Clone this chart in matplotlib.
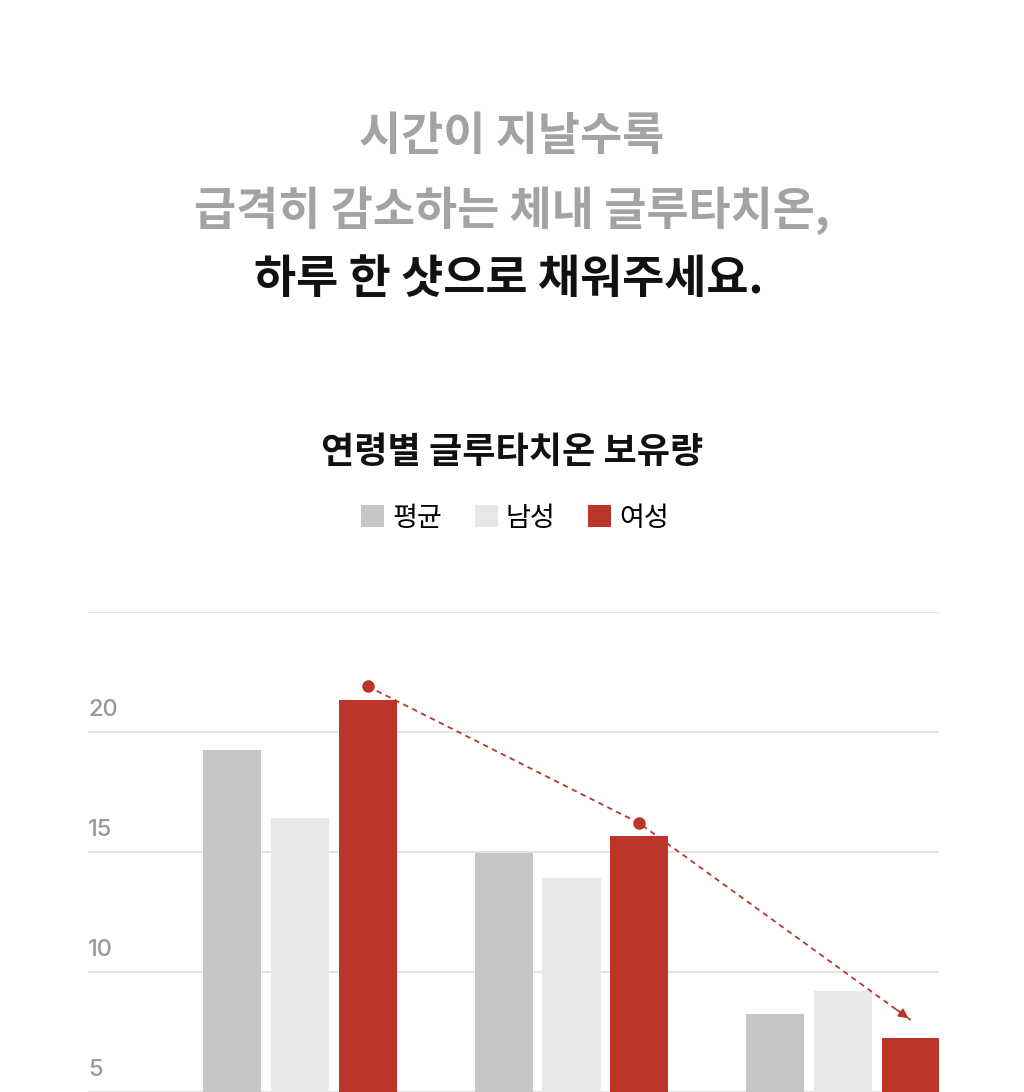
import numpy as np
import matplotlib.pyplot as plt
from matplotlib.patches import Patch

plt.rcParams['font.family'] = ['Noto Sans CJK KR', 'DejaVu Sans']

# data
series_names = ['평균', '남성', '여성']
avg_vals = [19.25, 14.95, 8.25]
male_vals = [16.4, 13.9, 9.2]
female_vals = [21.35, 15.65, 7.25]
trend_vals = [21.9, 16.2, 8.0]
ytick_vals = [5, 10, 15, 20]
grid_vals = [5, 10, 15, 20, 25]

colors = ['#c6c6c6', '#e8e8e8', '#bc342a']

fig = plt.figure(figsize=(10.24, 10.92), dpi=100)
fig.patch.set_facecolor('white')

# headline text
fig.text(0.5, 1 - 137 / 1092, '시간이 지날수록', ha='center', va='center',
         fontsize=33, fontweight='bold', color='#a3a3a3')
fig.text(0.5, 1 - 211 / 1092, '급격히 감소하는 체내 글루타치온,', ha='center', va='center',
         fontsize=33, fontweight='bold', color='#a3a3a3')
fig.text(0.497, 1 - 280 / 1092, '하루 한 샷으로 채워주세요.', ha='center', va='center',
         fontsize=33, fontweight='bold', color='#111111')
fig.text(0.5, 1 - 452 / 1092, '연령별 글루타치온 보유량', ha='center', va='center',
         fontsize=26, fontweight='bold', color='#111111')

ax = fig.add_axes([88 / 1024, 0, (939 - 88) / 1024, 480 / 1092])

x = np.arange(len(avg_vals))
w = 0.214
step = 0.25
ax.bar(x - step, avg_vals, w, color=colors[0], zorder=2)
ax.bar(x, male_vals, w, color=colors[1], zorder=2)
ax.bar(x + step, female_vals, w, color=colors[2], zorder=2)

# trend line over the red bars
tx = x + step
ax.plot(tx, trend_vals, color='#b8352c', lw=1.3, ls=(0, (3, 2.5)), zorder=3)
ax.plot(tx[:-1], trend_vals[:-1], 'o', color='#bc342a', ms=8, zorder=4)
ax.annotate('', xy=(tx[-1], trend_vals[-1]),
            xytext=(tx[-1] - 0.06, trend_vals[-1] + (trend_vals[-2] - trend_vals[-1]) * 0.06),
            arrowprops=dict(arrowstyle='-|>', color='#bc342a', lw=1.3, mutation_scale=14),
            zorder=4)

ax.set_xlim(-0.781, 2.354)
ax.set_ylim(5, 25)
for g in grid_vals:
    ax.axhline(g, color='#e0e0e0', lw=1.3, zorder=1)

for v in ytick_vals:
    ax.annotate(str(v), xy=(0, v), xycoords=ax.get_yaxis_transform(),
                xytext=(0, 16), textcoords='offset points',
                ha='left', va='center', fontsize=17, color='#999999',
                family=['Inter', 'DejaVu Sans'], fontweight='medium')

ax.set_xticks([])
ax.set_yticks([])
for s in ax.spines.values():
    s.set_visible(False)

handles = [Patch(facecolor=c, edgecolor='none') for c in colors]
fig.legend(handles, series_names, loc='center', bbox_to_anchor=(0.503, 1 - 518 / 1092),
           ncol=3, frameon=False, prop={'size': 19.5, 'weight': 'medium'},
           handlelength=0.85, handleheight=0.85,
           handletextpad=0.3, columnspacing=1.2)

fig.savefig('out.png', dpi=100)
